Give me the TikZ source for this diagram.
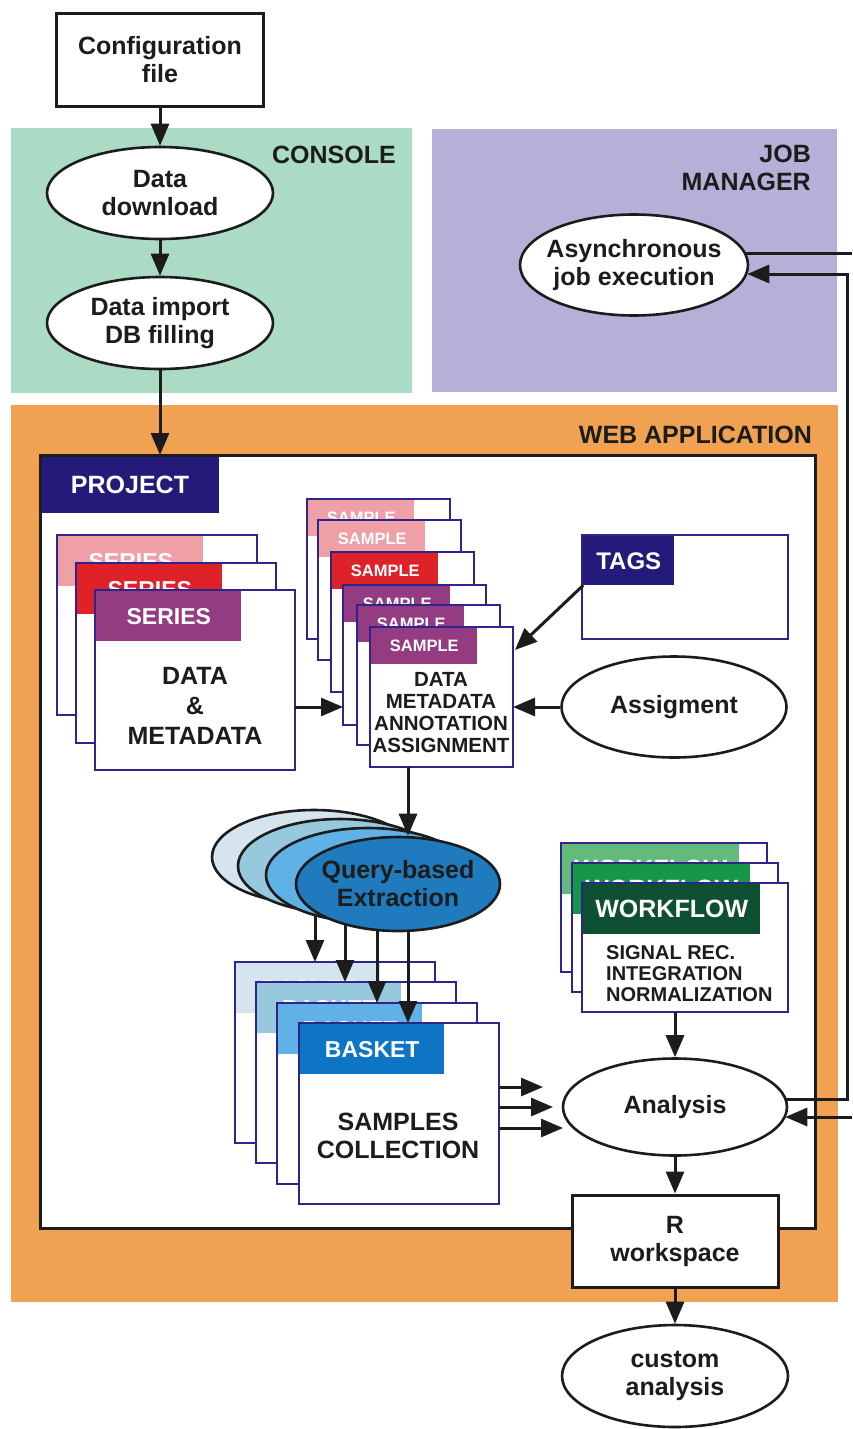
\documentclass[tikz,border=0pt]{standalone}
\usepackage{fontspec}
\setmainfont{Liberation Sans}
\usetikzlibrary{arrows.meta,shapes.geometric,calc}
\definecolor{consolec}{RGB}{172,219,197}
\definecolor{jobc}{RGB}{180,176,216}
\definecolor{webc}{RGB}{240,162,82}
\definecolor{navy}{RGB}{36,26,122}
\definecolor{cardb}{RGB}{46,36,140}
\definecolor{pinkh}{RGB}{238,160,166}
\definecolor{redh}{RGB}{222,34,40}
\definecolor{purph}{RGB}{148,60,130}
\definecolor{bl1}{RGB}{214,228,238}
\definecolor{bl2}{RGB}{152,200,222}
\definecolor{bl3}{RGB}{96,178,230}
\definecolor{bl4}{RGB}{14,116,196}
\definecolor{qb4}{RGB}{32,122,190}
\definecolor{gr1}{RGB}{100,186,122}
\definecolor{gr2}{RGB}{22,150,72}
\definecolor{gr3}{RGB}{16,80,50}
\definecolor{ink}{RGB}{28,28,28}
\newcommand\lbl{\fontsize{25}{28}\selectfont\bfseries}
\newcommand\hdf[1]{\fontsize{#1}{#1}\selectfont\bfseries}
\newcommand{\stackcard}[9]{%
  \node[cardbox, minimum width=#4, minimum height=#5, anchor=north west] (#1) at (#2,#3) {};
  \node[cardhead, fill=#8, minimum width=#6, minimum height=#7, anchor=north west] (#1h) at ($(#1.north west)+(1.25,1.25)$) {#9};
}
\begin{document}
\begin{tikzpicture}[x=1pt,y=-1pt,
  ln/.style={line width=3pt, draw=ink},
  arr/.style={ln, -{Triangle[length=22pt,width=18pt]}},
  ell/.style={ellipse, draw=ink, line width=2.6pt, fill=white, inner sep=0pt, align=center, font=\lbl, text=ink},
  qell/.style={ell, inner xsep=-30pt},
  boxn/.style={rectangle, draw=ink, line width=3pt, fill=white, inner sep=0pt, align=center, font=\lbl, text=ink},
  reglbl/.style={inner sep=0pt, align=right, font=\lbl, text=ink},
  projbox/.style={rectangle, draw=ink, line width=3pt, fill=white, inner sep=0pt, outer sep=0pt},
  projtab/.style={rectangle, fill=navy, inner sep=0pt, outer sep=0pt, text=white, font=\lbl},
  cardbox/.style={rectangle, draw=cardb, line width=2.5pt, fill=white, inner sep=0pt, outer sep=0pt},
  cardhead/.style={rectangle, inner sep=0pt, outer sep=0pt, text=white},
  cardtxt/.style={inner sep=0pt, align=center, font=\lbl, text=ink}]
\useasboundingbox (0,0) rectangle (852,1429);
\fill[white] (0,0) rectangle (852,1429);
% regions
\fill[consolec] (11,128) rectangle (412,393);
\fill[jobc] (432,129) rectangle (837,392);
\fill[webc] (11,405) rectangle (838,1302);
\node[reglbl, anchor=east] (conlbl) at (396,155) {CONSOLE};
\node[reglbl, anchor=east] (joblbl) at (811,168) {JOB\\MANAGER};
\node[reglbl, anchor=east] (weblbl) at (812,435) {WEB APPLICATION};
% top flow
\node[boxn, minimum width=207, minimum height=93] (cfg) at (160,60) {Configuration\\file};
\node[ell, minimum width=226, minimum height=92] (dl) at (160,193) {Data\\download};
\node[ell, minimum width=226, minimum height=92] (imp) at (160,323) {Data import\\DB filling};
\node[qell, minimum width=228, minimum height=101] (job) at (634,265) {Asynchronous\\job execution};
% project
\node[projbox, minimum width=775, minimum height=773, anchor=north west] (proj) at (40,455) {};
\node[projtab, minimum width=177, minimum height=56, anchor=north west] (projt) at ($(proj.north west)+(1.5,1.5)$) {PROJECT};
\draw[arr] (cfg.south) -- (dl.north);
\draw[arr] (dl.south) -- (imp.north);
\draw[arr] (imp.south) -- (imp.south |- proj.north);
% series
\stackcard{ser1}{57}{535}{200}{180}{145}{50}{pinkh}{\hdf{23}SERIES}
\stackcard{ser2}{76}{563}{200}{180}{145}{50}{redh}{\hdf{23}SERIES}
\stackcard{ser3}{95}{590}{200}{180}{145}{50}{purph}{\hdf{23}SERIES}
\node[cardtxt, font=\fontsize{25}{30}\selectfont\bfseries] (sert) at (195,706) {DATA\\\&\\METADATA};
% samples
\stackcard{s1}{307}{499}{143}{140}{106}{36}{pinkh}{\hdf{16.5}SAMPLE}
\stackcard{s2}{318}{520}{143}{140}{106}{36}{pinkh}{\hdf{16.5}SAMPLE}
\stackcard{s3}{331}{552}{143}{140}{106}{36}{redh}{\hdf{16.5}SAMPLE}
\stackcard{s4}{343}{585}{143}{140}{106}{36}{purph}{\hdf{16.5}SAMPLE}
\stackcard{s5}{357}{605}{143}{140}{106}{36}{purph}{\hdf{16.5}SAMPLE}
\stackcard{s6}{370}{627}{143}{140}{106}{36}{purph}{\hdf{16.5}SAMPLE}
\node[cardtxt, font=\fontsize{20.5}{22}\selectfont\bfseries] (s6t) at (441,713) {DATA\\METADATA\\ANNOTATION\\ASSIGNMENT};
\draw[arr] ($(ser3.east)+(0,27)$) coordinate (sa) -- (sa -| s4.west);
% tags
\stackcard{tags}{582}{535}{206}{104}{91}{49}{navy}{\hdf{24}TAGS}
\draw[arr] (tagsh.south west) -- ($(s6.north east)+(2,23)$);
\node[ell, minimum width=225, minimum height=101] (asg) at (674,707) {Assigment};
\draw[arr] (asg.west) -- (asg.west -| s6.east);
% baskets
\stackcard{b1}{235}{962}{200}{181}{144}{50}{bl1}{\hdf{23}BASKET}
\stackcard{b2}{256}{982}{200}{181}{144}{50}{bl2}{\hdf{23}BASKET}
\stackcard{b3}{277}{1003}{200}{181}{144}{50}{bl3}{\hdf{23}BASKET}
\stackcard{b4}{299}{1023}{200}{181}{144}{50}{bl4}{\hdf{23}BASKET}
\node[cardtxt] (b4t) at (398,1136) {SAMPLES\\COLLECTION};
% query arrows
\coordinate (qa1) at (315,900);
\coordinate (qa2) at (345,905);
\coordinate (qa3) at (377,910);
\coordinate (qa4) at (408,915);
\draw[arr] (qa1) -- (qa1 |- b1.north);
\draw[arr] (qa2) -- (qa2 |- b2.north);
\draw[arr] (qa3) -- (qa3 |- b3.north);
\draw[arr] (qa4) -- (qa4 |- b4.north);
% query ellipses
\node[qell, fill=bl1, minimum width=204, minimum height=94] (q1) at (314,857) {};
\node[qell, fill=bl2, minimum width=204, minimum height=94] (q2) at (340,866) {};
\node[qell, fill=bl3, minimum width=204, minimum height=94] (q3) at (368,875) {};
\node[qell, fill=qb4, minimum width=204, minimum height=94] (q4) at (398,884) {Query-based\\Extraction};
\draw[arr] ($(s6.south west)+(38,0)$) coordinate (sq) -- (sq |- q4.north);
% workflows
\stackcard{w1}{561}{843}{206}{129}{177}{50}{gr1}{\hdf{25}WORKFLOW}
\stackcard{w2}{572}{863}{206}{129}{177}{50}{gr2}{\hdf{25}WORKFLOW}
\stackcard{w3}{582}{883}{206}{129}{177}{50}{gr3}{\hdf{25}WORKFLOW}
\node[cardtxt, font=\fontsize{20}{21}\selectfont\bfseries, align=left, anchor=west] (w3t) at (606,974) {SIGNAL REC.\\INTEGRATION\\NORMALIZATION};
% analysis and output
\node[ell, minimum width=224, minimum height=97] (an) at (675,1107) {Analysis};
\node[boxn, minimum width=206, minimum height=92] (rw) at (675,1241) {R\\workspace};
\node[ell, minimum width=226, minimum height=102] (ca) at (675,1376) {custom\\analysis};
\draw[arr] (an.north |- w3.south) -- (an.north);
\draw[arr] (an.south) -- (rw.north);
\draw[arr] (rw.south) -- (ca.north);
\coordinate (ba1) at (543,1087);
\coordinate (ba2) at (553,1107);
\coordinate (ba3) at (563,1128);
\draw[arr] (ba1 -| b4.east) -- (ba1);
\draw[arr] (ba2 -| b4.east) -- (ba2);
\draw[arr] (ba3 -| b4.east) -- (ba3);
% job manager links
\coordinate (eA) at (852,253);
\coordinate (eB) at (852,1117);
\coordinate (rv1) at (847,1099);
\coordinate (rv2) at (847,274);
\draw[ln] ($(eA -| job.east)+(-4,0)$) -- (eA);
\draw[arr] ($(an.east)+(-3,-8)$) -- (rv1) -- (rv2) -- ($(rv2 -| job.east)+(-2,0)$);
\draw[arr] (eB) -- ($(an.east)+(-3,10)$);
\end{tikzpicture}
\end{document}
